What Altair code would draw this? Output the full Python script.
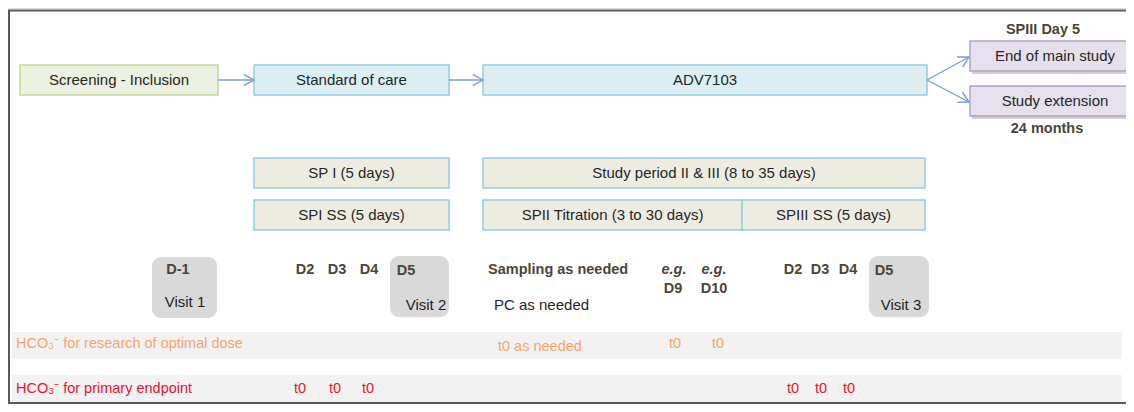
import altair as alt
import pandas as pd

FONT = "Liberation Sans, Arial, sans-serif"

# ---- flow boxes (top row) ----
flow_labels = ["Screening - Inclusion", "Standard of care", "ADV7103", "End of main study", "Study extension"]
flow_x0 = [20, 254, 483, 970, 970]
flow_x1 = [218, 449, 927, 1140, 1140]
flow_y0 = [65, 65, 65, 41, 86]
flow_y1 = [95, 95, 95, 71, 116]
flow_fill = ["#ebf1de", "#daeef3", "#daeef3", "#e5e0ec", "#e5e0ec"]
flow_stroke = ["#c3d69b", "#93cddd", "#93cddd", "#b3a2c7", "#b3a2c7"]
flow_shadow = [0, 0, 0, 1, 1]

# ---- study period boxes ----
period_labels = ["SP I (5 days)", "Study period II & III  (8 to 35 days)", "SPI SS (5 days)",
                 "SPII Titration (3 to 30 days)", "SPIII SS (5 days)"]
period_x0 = [254, 483, 254, 483, 742]
period_x1 = [449, 925, 449, 742, 925]
period_y0 = [158, 158, 200, 200, 200]
period_y1 = [188, 188, 230, 230, 230]

# ---- visit boxes ----
visit_x0 = [152, 390, 869]
visit_x1 = [217, 449, 929]
visit_y0 = [257, 256, 256]
visit_y1 = [318, 317, 317]

# ---- sampling bands ----
band_x0 = [12, 12]
band_x1 = [1122, 1122]
band_y0 = [332, 375]
band_y1 = [359, 402]

# ---- arrows ----
arrow_x0 = [218, 449, 927, 927]
arrow_y0 = [80, 80, 80, 80]
arrow_x1 = [254, 483, 969, 969]
arrow_y1 = [80, 80, 57, 102]
arrow_angle = [0, 0, 331, 27]

# ---- labels ----
bold_text = ["SPIII Day 5", "24 months", "D-1", "D2", "D3", "D4", "D5", "Sampling as needed",
             "D9", "D10", "D2", "D3", "D4", "D5"]
bold_x = [1043, 1047, 178, 305, 337, 369, 406, 488, 673, 714, 793, 820, 848, 884]
bold_y = [30, 129, 270, 270, 270, 270, 271, 270, 289, 289, 270, 270, 270, 271]
bold_align = ["center", "center", "center", "center", "center", "center", "center", "left",
              "center", "center", "center", "center", "center", "center"]

italic_text = ["e.g.", "e.g."]
italic_x = [674, 714]
italic_y = [270, 270]

plain_text = ["Visit 1", "Visit 2", "Visit 3", "PC as needed"]
plain_x = [185, 426, 901, 494]
plain_y = [302, 305, 305, 305]
plain_align = ["center", "center", "center", "left"]

orange_text = ["HCO\u2083\u207b for research of optimal dose", "t0 as needed", "t0", "t0"]
orange_x = [16, 498, 669, 712]
orange_y = [344, 347, 344, 344]

red_text = ["HCO\u2083\u207b for primary endpoint", "t0", "t0", "t0", "t0", "t0", "t0"]
red_x = [16, 294, 329, 362, 787, 815, 843]
red_y = [389, 389, 389, 389, 389, 389, 389]

# ---- frame ----
frame_x0, frame_x1, frame_y0, frame_y1 = [9], [1140], [10.5], [403]

xs = alt.Scale(domain=[8, 1126], nice=False, zero=False)
ys = alt.Scale(domain=[8, 404], nice=False, zero=False, reverse=True)

def X(f):
    return alt.X(f, type="quantitative", scale=xs, axis=None)

def Y(f):
    return alt.Y(f, type="quantitative", scale=ys, axis=None)

flow = pd.DataFrame(dict(label=flow_labels, x0=flow_x0, x1=flow_x1, y0=flow_y0, y1=flow_y1,
                         fill=flow_fill, stroke=flow_stroke, shadow=flow_shadow))
flow["xc"] = (flow.x0 + flow.x1) / 2
flow["yc"] = (flow.y0 + flow.y1) / 2
flow["sx0"] = flow.x0 + 2
flow["sx1"] = flow.x1 + 2
flow["sy0"] = flow.y0 + 3
flow["sy1"] = flow.y1 + 3

period = pd.DataFrame(dict(label=period_labels, x0=period_x0, x1=period_x1, y0=period_y0, y1=period_y1))
period["xc"] = (period.x0 + period.x1) / 2
period["yc"] = (period.y0 + period.y1) / 2

visits = pd.DataFrame(dict(x0=visit_x0, x1=visit_x1, y0=visit_y0, y1=visit_y1))
bands = pd.DataFrame(dict(x0=band_x0, x1=band_x1, y0=band_y0, y1=band_y1))
arrows = pd.DataFrame(dict(x0=arrow_x0, y0=arrow_y0, x1=arrow_x1, y1=arrow_y1, angle=arrow_angle))
frame = pd.DataFrame(dict(x0=frame_x0, x1=frame_x1, y0=frame_y0, y1=frame_y1))

bold = pd.DataFrame(dict(t=bold_text, x=bold_x, y=bold_y, a=bold_align))
italic = pd.DataFrame(dict(t=italic_text, x=italic_x, y=italic_y))
plain = pd.DataFrame(dict(t=plain_text, x=plain_x, y=plain_y, a=plain_align))
orange = pd.DataFrame(dict(t=orange_text, x=orange_x, y=orange_y))
red = pd.DataFrame(dict(t=red_text, x=red_x, y=red_y))

layers = []

layers.append(alt.Chart(bands).mark_rect(fill="#f2f2f2", clip=True).encode(
    x=X("x0"), x2="x1", y=Y("y0"), y2="y1"))

layers.append(alt.Chart(frame).mark_rect(fill=None, stroke="#595959", strokeWidth=2, clip=True).encode(
    x=X("x0"), x2="x1", y=Y("y0"), y2="y1"))

layers.append(alt.Chart(flow).transform_filter("datum.shadow == 1").mark_rect(
    fill="#9a9a9a", opacity=0.45, clip=True).encode(
    x=X("sx0"), x2="sx1", y=Y("sy0"), y2="sy1"))

layers.append(alt.Chart(flow).mark_rect(strokeWidth=1.5, clip=True).encode(
    x=X("x0"), x2="x1", y=Y("y0"), y2="y1",
    fill=alt.Fill("fill:N", scale=None), stroke=alt.Stroke("stroke:N", scale=None)))

layers.append(alt.Chart(period).mark_rect(fill="#eeece1", stroke="#92cddc", strokeWidth=1.5, clip=True).encode(
    x=X("x0"), x2="x1", y=Y("y0"), y2="y1"))

layers.append(alt.Chart(visits).mark_rect(fill="#d9d9d9", cornerRadius=9, clip=True).encode(
    x=X("x0"), x2="x1", y=Y("y0"), y2="y1"))

layers.append(alt.Chart(arrows).mark_rule(stroke="#7b9ccd", strokeWidth=1.4).encode(
    x=X("x0"), x2="x1", y=Y("y0"), y2="y1"))

layers.append(alt.Chart(arrows).mark_point(
    shape="M -1.8 -1 L 0 0 L -1.8 1", filled=False, stroke="#7b9ccd", strokeWidth=1.4, size=130, opacity=1).encode(
    x=X("x1"), y=Y("y1"), angle=alt.Angle("angle:Q", scale=None)))

box_text_kw = dict(font=FONT, fontSize=15, color="#262626", baseline="middle", align="center")
layers.append(alt.Chart(flow).mark_text(**box_text_kw).encode(x=X("xc"), y=Y("yc"), text="label:N"))
layers.append(alt.Chart(period).mark_text(**box_text_kw).encode(x=X("xc"), y=Y("yc"), text="label:N"))

for al in ["center", "left"]:
    sub = bold[bold.a == al]
    layers.append(alt.Chart(sub).mark_text(font=FONT, fontSize=14.5, fontWeight="bold", color="#4b4536",
                                           baseline="middle", align=al).encode(
        x=X("x"), y=Y("y"), text="t:N"))

layers.append(alt.Chart(italic).mark_text(font=FONT, fontSize=14.5, fontWeight="bold", fontStyle="italic",
                                          color="#4b4536", baseline="middle", align="center").encode(
    x=X("x"), y=Y("y"), text="t:N"))

for al in ["center", "left"]:
    sub = plain[plain.a == al]
    layers.append(alt.Chart(sub).mark_text(font=FONT, fontSize=15, color="#1f1f1f",
                                           baseline="middle", align=al).encode(
        x=X("x"), y=Y("y"), text="t:N"))

layers.append(alt.Chart(orange).mark_text(font=FONT, fontSize=14.5, color="#f7a468",
                                          baseline="middle", align="left").encode(
    x=X("x"), y=Y("y"), text="t:N"))
layers.append(alt.Chart(red).mark_text(font=FONT, fontSize=14.5, color="#f2102a",
                                       baseline="middle", align="left").encode(
    x=X("x"), y=Y("y"), text="t:N"))

chart = alt.layer(*layers).properties(
    width=1118, height=396,
    autosize=alt.AutoSizeParams(type="fit", contains="padding"),
    padding=0,
).configure_view(stroke=None).configure(background="white")

chart.save("out.html", embed_options={"renderer": "svg", "actions": False})
